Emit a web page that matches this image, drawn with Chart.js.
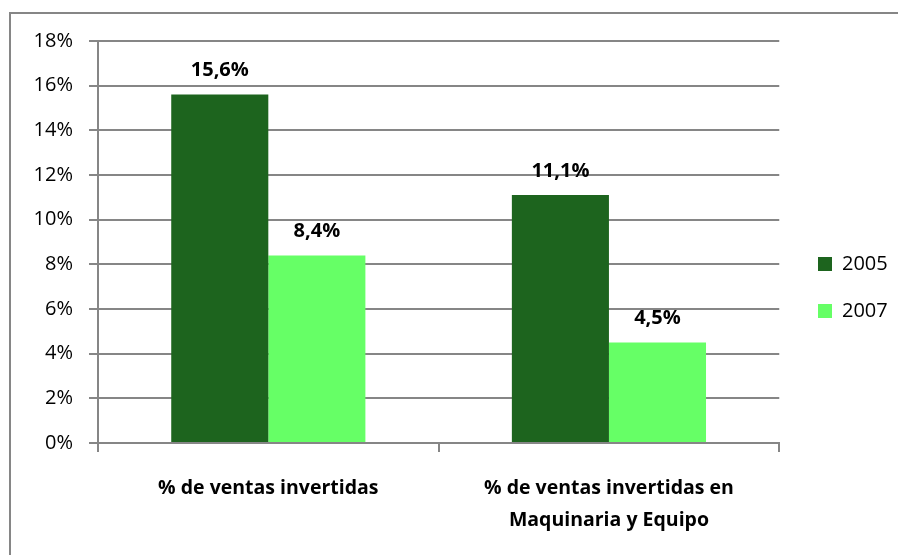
<!DOCTYPE html>
<html>
<head>
<meta charset="utf-8">
<script src="https://cdn.jsdelivr.net/npm/chart.js@4"></script>
<style>
  html, body { margin: 0; padding: 0; overflow: hidden; background: #fff; }
  #frame { position: absolute; left: 9px; top: 12px; width: 1000px; height: 700px; border: 2px solid #868686; }
  #myChart { position: absolute; left: 0; top: 0; }
</style>
</head>
<body>
<div id="frame"></div>
<canvas id="myChart" width="898" height="555"></canvas>
<script>
// datos
var categorias = [
  '% de ventas invertidas',
  ['% de ventas invertidas en', 'Maquinaria y Equipo']
];
var serie2005 = [15.6, 11.1];
var serie2007 = [8.4, 4.5];
var anios = ['2005', '2007'];
var colores = ['#1D641E', '#66FF66'];

var gris = '#868686';
var fuente = "'Open Sans', 'Noto Sans', sans-serif";

function fmt(v) {
  return v.toFixed(1).replace('.', ',') + '%';
}

// etiquetas encima de las barras
var etiquetas = {
  id: 'etiquetas',
  afterDatasetsDraw: function (chart) {
    var ctx = chart.ctx;
    ctx.save();
    ctx.font = 'bold 20px ' + fuente;
    ctx.fillStyle = '#000';
    ctx.textAlign = 'center';
    ctx.textBaseline = 'middle';
    chart.data.datasets.forEach(function (ds, i) {
      chart.getDatasetMeta(i).data.forEach(function (bar, j) {
        ctx.fillText(fmt(ds.data[j]), bar.x, bar.y - 24);
      });
    });
    ctx.restore();
  }
};

// mueve la leyenda un poco a la derecha
var moverLeyenda = {
  id: 'moverLeyenda',
  afterLayout: function (chart) {
    var lg = chart.legend;
    if (!lg) return;
    var dx = 818 - (lg.left + lg.options.labels.padding);
    lg.left += dx;
    lg.right += dx;
  }
};

var ctx = document.getElementById('myChart').getContext('2d');
var chart = new Chart(ctx, {
  type: 'bar',
  data: {
    labels: categorias,
    datasets: [
      { label: anios[0], data: serie2005, backgroundColor: colores[0], borderWidth: 0 },
      { label: anios[1], data: serie2007, backgroundColor: colores[1], borderWidth: 0 }
    ]
  },
  options: {
    responsive: false,
    animation: false,
    devicePixelRatio: 1,
    categoryPercentage: 0.57,
    barPercentage: 1.0,
    layout: { padding: { top: 41, bottom: 21, left: 0, right: 12 } },
    scales: {
      x: {
        grid: { display: true, offset: true, drawOnChartArea: false, drawTicks: true, tickLength: 9, color: gris, lineWidth: 2 },
        border: { display: true, color: gris, width: 2 },
        ticks: {
          color: '#000',
          padding: 20,
          maxRotation: 0,
          autoSkip: false,
          font: { family: fuente, size: 19.5, weight: 'bold', lineHeight: 32 / 19.5 }
        },
        afterFit: function (s) { s.height = 91; }
      },
      y: {
        min: 0,
        max: 18,
        grid: { color: gris, lineWidth: 2, tickLength: 9, drawTicks: true },
        border: { display: true, color: gris, width: 2 },
        ticks: {
          stepSize: 2,
          color: '#000',
          padding: 16,
          font: { family: fuente, size: 20 },
          callback: function (v) { return v + '%'; }
        },
        afterFit: function (s) { s.width = 98; }
      }
    },
    plugins: {
      legend: {
        position: 'right',
        labels: {
          boxWidth: 14,
          boxHeight: 14,
          padding: 27,
          color: '#000',
          font: { family: fuente, size: 20 }
        }
      },
      tooltip: { enabled: false }
    }
  },
  plugins: [etiquetas, moverLeyenda]
});
</script>
</body>
</html>
